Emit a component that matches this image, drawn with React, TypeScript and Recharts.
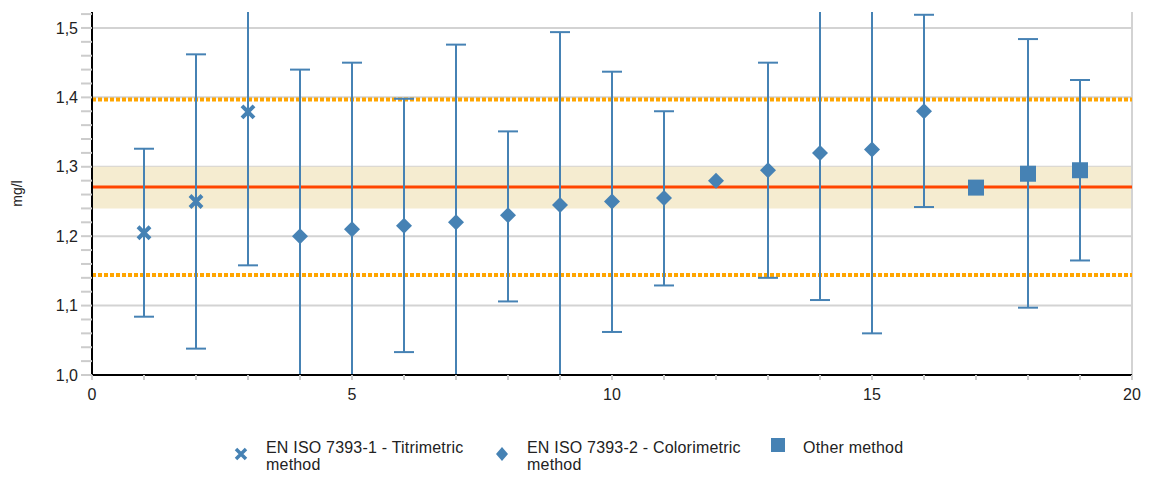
import {
  ScatterChart,
  Scatter,
  ErrorBar,
  CartesianGrid,
  ReferenceArea,
  ReferenceLine,
  XAxis,
  YAxis,
} from "recharts";

// lab number, reported result and the ends of its uncertainty bar (mg/l)
const labs = [1, 2, 3, 4, 5, 6, 7, 8, 9, 10, 11, 12, 13, 14, 15, 16, 17, 18, 19];
const methods = ["T", "T", "T", "C", "C", "C", "C", "C", "C", "C", "C", "C", "C", "C", "C", "C", "O", "O", "O"];
const results = [1.205, 1.25, 1.379, 1.2, 1.21, 1.215, 1.22, 1.23, 1.245, 1.25, 1.255, 1.28, 1.295, 1.32, 1.325, 1.38, 1.27, 1.29, 1.295];
const upper = [1.326, 1.462, 1.58, 1.44, 1.45, 1.398, 1.476, 1.351, 1.494, 1.437, 1.38, null, 1.45, 1.58, 1.58, 1.519, null, 1.484, 1.425];
const lower = [1.084, 1.038, 1.158, 0.95, 0.95, 1.033, 0.95, 1.106, 0.95, 1.062, 1.129, null, 1.14, 1.108, 1.06, 1.242, null, 1.097, 1.165];

const assigned = 1.271;
const bandLow = 1.24;
const bandHigh = 1.3;
const limitLow = 1.144;
const limitHigh = 1.397;

const yTicks = [1.0, 1.02, 1.04, 1.06, 1.08, 1.1, 1.12, 1.14, 1.16, 1.18, 1.2, 1.22, 1.24, 1.26, 1.28, 1.3, 1.32, 1.34, 1.36, 1.38, 1.4, 1.42, 1.44, 1.46, 1.48, 1.5, 1.52];
const xTicks = [0, 1, 2, 3, 4, 5, 6, 7, 8, 9, 10, 11, 12, 13, 14, 15, 16, 17, 18, 19, 20];
const gridY = [1.1, 1.2, 1.3, 1.4, 1.5];

const BLUE = "#4682b4";
const FONT = "'Liberation Sans', Arial, sans-serif";

const rows = labs.map((lab, i) => ({
  lab,
  value: results[i],
  method: methods[i],
  err:
    upper[i] == null || lower[i] == null
      ? undefined
      : [results[i] - (lower[i] as number), (upper[i] as number) - results[i]],
}));

const titri = rows.filter((r) => r.method === "T");
const colori = rows.filter((r) => r.method === "C");
const other = rows.filter((r) => r.method === "O");

const Cross = (p: any) => {
  const s = 6;
  return (
    <path
      d={`M${p.cx - s},${p.cy - s}L${p.cx + s},${p.cy + s}M${p.cx - s},${p.cy + s}L${p.cx + s},${p.cy - s}`}
      stroke={BLUE}
      strokeWidth={4}
    />
  );
};

const Diamond = (p: any) => {
  const s = 8;
  return (
    <path
      d={`M${p.cx},${p.cy - s}L${p.cx + s},${p.cy}L${p.cx},${p.cy + s}L${p.cx - s},${p.cy}Z`}
      fill={BLUE}
    />
  );
};

const Square = (p: any) => (
  <rect x={p.cx - 8} y={p.cy - 8} width={16} height={16} fill={BLUE} />
);

const yFmt = (v: number) =>
  Math.round(v * 100) % 10 === 0 ? v.toFixed(1).replace(".", ",") : "";
const xFmt = (v: number) => (v % 5 === 0 ? String(v) : "");

function LegendBox() {
  const text: React.CSSProperties = {
    position: "absolute",
    fontFamily: FONT,
    fontSize: 16,
    letterSpacing: 0.2,
    lineHeight: "17px",
    color: "#222",
    width: 228,
  };
  return (
    <>
      <svg
        width={1152}
        height={40}
        style={{ position: "absolute", left: 0, top: 437 }}
      >
        <path d="M236,12L246,22M236,22L246,12" stroke={BLUE} strokeWidth={3.5} />
        <path d="M502,10L508,17L502,24L496,17Z" fill={BLUE} />
        <rect x={771} y={1} width={14} height={14} fill={BLUE} />
      </svg>
      <div style={{ ...text, left: 266, top: 439 }}>
        EN ISO 7393-1 - Titrimetric method
      </div>
      <div style={{ ...text, left: 527, top: 439 }}>
        EN ISO 7393-2 - Colorimetric method
      </div>
      <div style={{ ...text, left: 803, top: 439 }}>Other method</div>
    </>
  );
}

export default function App() {
  return (
    <div style={{ position: "absolute", left: 0, top: 0, width: 1152, height: 477, background: "#fff" }}>
      <style>{`.recharts-errorBar { clip-path: url(#plotClip); }`}</style>
      <svg width={0} height={0} style={{ position: "absolute" }}>
        <defs>
          <clipPath id="plotClip" clipPathUnits="userSpaceOnUse">
            <rect x={80} y={12} width={1060} height={363} />
          </clipPath>
        </defs>
      </svg>
      <ScatterChart
        width={1152}
        height={477}
        margin={{ top: 12, right: 20, bottom: 72, left: 0 }}
      >
        <ReferenceArea
          y1={bandLow}
          y2={bandHigh}
          fill="#f5ecd0"
          fillOpacity={1}
          stroke="none"
          ifOverflow="hidden"
        />
        <CartesianGrid
          vertical={false}
          horizontalValues={gridY}
          stroke="#d3d3d3"
          strokeWidth={2}
        />
        <ReferenceLine x={20} stroke="#d3d3d3" strokeWidth={2} />
        <ReferenceLine y={limitHigh} stroke="#ffa500" strokeWidth={4} strokeDasharray="4 2" />
        <ReferenceLine y={limitLow} stroke="#ffa500" strokeWidth={4} strokeDasharray="4 2" />
        <ReferenceLine y={assigned} stroke="#ff4500" strokeWidth={3} />
        <XAxis
          type="number"
          dataKey="lab"
          domain={[0, 20]}
          ticks={xTicks}
          interval={0}
          tickFormatter={xFmt}
          axisLine={{ stroke: "#000", strokeWidth: 2 }}
          tickLine={{ stroke: "#ccc", strokeWidth: 2 }}
          tickSize={5}
          tickMargin={9}
          tick={{ fill: "#222", fontSize: 16, fontFamily: FONT }}
          height={30}
        />
        <YAxis
          type="number"
          dataKey="value"
          domain={[1, 1.523]}
          allowDataOverflow
          ticks={yTicks}
          interval={0}
          tickFormatter={yFmt}
          axisLine={{ stroke: "#000", strokeWidth: 2 }}
          tickLine={{ stroke: "#ccc", strokeWidth: 2 }}
          tickSize={11}
          tickMargin={3}
          tick={{ fill: "#222", fontSize: 16, fontFamily: FONT }}
          width={92}
          label={{
            value: "mg/l",
            angle: -90,
            position: "insideLeft",
            offset: 17,
            style: { fontSize: 14, fontFamily: FONT, fill: "#222", textAnchor: "middle" },
          }}
        />
        <Scatter data={titri} shape={Cross} isAnimationActive={false}>
          <ErrorBar dataKey="err" direction="y" width={10} stroke={BLUE} strokeWidth={2} />
        </Scatter>
        <Scatter data={colori} shape={Diamond} isAnimationActive={false}>
          <ErrorBar dataKey="err" direction="y" width={10} stroke={BLUE} strokeWidth={2} />
        </Scatter>
        <Scatter data={other} shape={Square} isAnimationActive={false}>
          <ErrorBar dataKey="err" direction="y" width={10} stroke={BLUE} strokeWidth={2} />
        </Scatter>
      </ScatterChart>
      <LegendBox />
    </div>
  );
}
